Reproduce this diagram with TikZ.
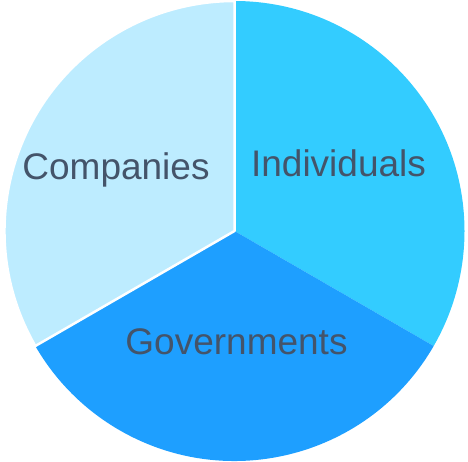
\documentclass[tikz,border=0pt]{standalone}
\usepackage{fontspec}
\setmainfont{Liberation Sans}
\definecolor{indiv}{HTML}{33CCFF}
\definecolor{govt}{HTML}{1E9FFF}
\definecolor{comp}{HTML}{BDECFF}
\definecolor{labeltext}{HTML}{44546A}
\tikzset{
  slicelabel/.style = {anchor=base, inner sep=0pt, text=labeltext,
    font=\fontsize{37}{44}\selectfont}
}
\begin{document}
\begin{tikzpicture}[x=1pt, y=1pt]
    \useasboundingbox (0,0) rectangle (468,462);
    \coordinate (c) at (234.5,231);

    \fill[indiv] (c) -- ++(90:230) arc (90:-30:230) -- cycle;
    \fill[govt] (c) -- ++(-30:230) arc (-30:-150:230) -- cycle;
    \draw[fill=comp, draw=white, line width=2.5pt, line join=round]
        (c) -- ++(210:230) arc (210:90:230) -- cycle;

    \node[slicelabel] (individuals) at (338.5,285) {Individuals};
    \node[slicelabel] (companies) at (116,282) {Companies};
    \node[slicelabel] (governments) at (236.5,107) {Governments};
\end{tikzpicture}
\end{document}
